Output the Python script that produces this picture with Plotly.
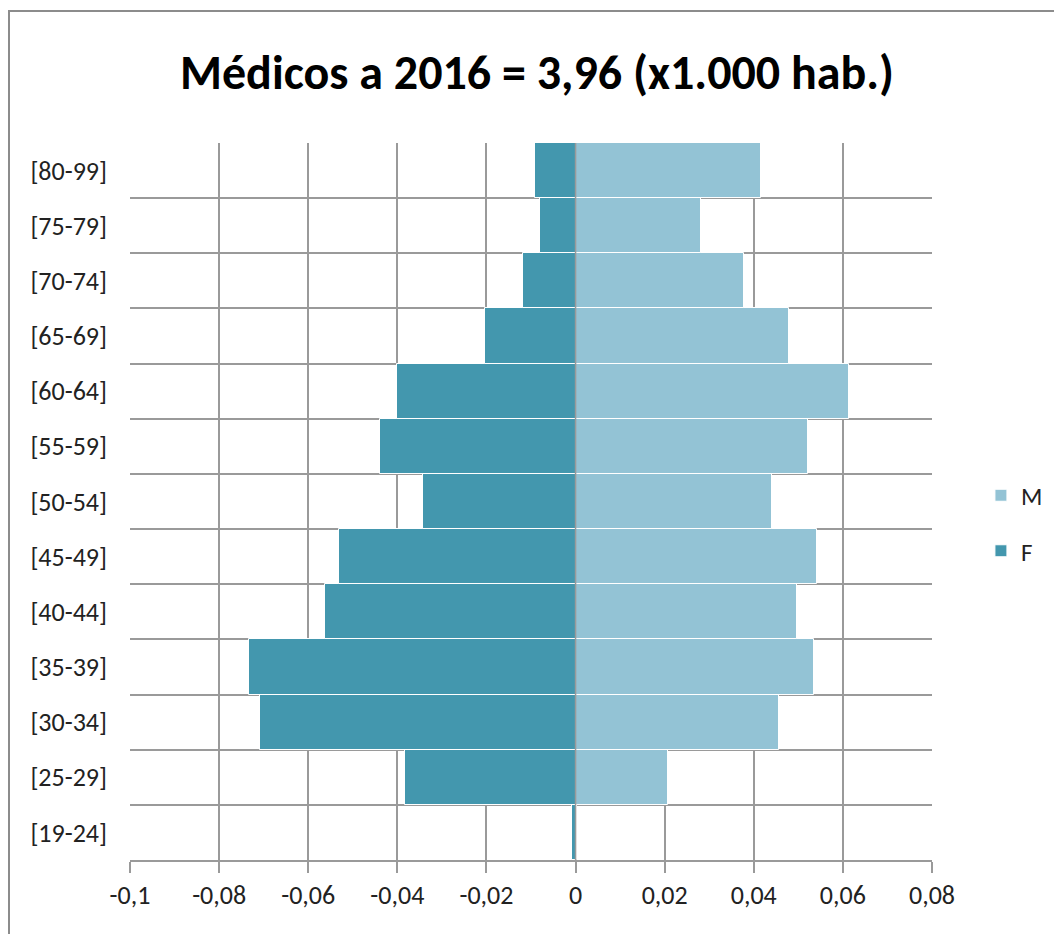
import plotly.graph_objects as go

categories = ["[19-24]", "[25-29]", "[30-34]", "[35-39]", "[40-44]", "[45-49]",
              "[50-54]", "[55-59]", "[60-64]", "[65-69]", "[70-74]", "[75-79]", "[80-99]"]
male = [0.0003, 0.0208, 0.0456, 0.0536, 0.0497, 0.0542,
        0.0442, 0.0521, 0.0614, 0.0479, 0.0378, 0.0281, 0.0416]
female = [-0.0007, -0.0382, -0.0709, -0.0733, -0.0562, -0.0531,
          -0.0342, -0.0439, -0.0401, -0.0203, -0.0119, -0.0079, -0.0091]
tick_vals = [-0.1, -0.08, -0.06, -0.04, -0.02, 0, 0.02, 0.04, 0.06, 0.08]
tick_text = ["-0,1", "-0,08", "-0,06", "-0,04", "-0,02", "0", "0,02", "0,04", "0,06", "0,08"]
title_text = "Médicos a 2016 = 3,96 (x1.000 hab.)"

FONT = "Carlito, Calibri, Lato, sans-serif"
COL_M = "#93C3D5"
COL_F = "#4397AE"
GRID = "#9A9A9A"

fig = go.Figure()
fig.add_trace(go.Bar(y=categories, x=male, orientation="h", name="M",
                     marker=dict(color=COL_M, line=dict(color="white", width=1)),
                     legendgroup="m"))
fig.add_trace(go.Bar(y=categories, x=female, orientation="h", name="F",
                     marker=dict(color=COL_F, line=dict(color="white", width=1)),
                     legendgroup="f"))

fig.update_layout(
    width=1054, height=934,
    margin=dict(l=130, r=122, t=143, b=74, autoexpand=False),
    paper_bgcolor="white", plot_bgcolor="white",
    barmode="relative", bargap=0,
    font=dict(family=FONT, size=22, color="#222222"),
    title=dict(text=title_text, x=537 / 1054, xref="container", xanchor="center",
               y=1 - 72 / 934, yref="container", yanchor="middle",
               font=dict(family=FONT, size=48, color="black", weight="bold")),
    legend=dict(x=1.061, xanchor="left", y=0.47, yanchor="middle",
                font=dict(size=25, color="#222222"), tracegroupgap=20,
                traceorder="grouped", itemwidth=30),
    xaxis=dict(range=[-0.1, 0.08], tickvals=tick_vals, ticktext=tick_text,
               showgrid=True, gridcolor=GRID, gridwidth=1.5,
               zeroline=False, showline=True, linecolor=GRID, linewidth=1.5,
               ticks="outside", ticklen=11, tickcolor=GRID, tickwidth=1.5,
               tickfont=dict(size=26, color="#222222")),
    yaxis=dict(categoryorder="array", categoryarray=categories, type="category",
               tickson="boundaries", showgrid=True, gridcolor=GRID, gridwidth=1.5,
               ticks="", showline=False, zeroline=False,
               ticklabelstandoff=22,
               tickfont=dict(size=26, color="#222222")),
    shapes=[
        dict(type="line", xref="x", yref="paper", x0=0, x1=0, y0=0, y1=1,
             line=dict(color=GRID, width=1.5), layer="above"),
        dict(type="rect", xref="paper", yref="paper",
             x0=(9 - 130) / 802, x1=2, y0=-1, y1=1 + (143 - 11) / 717,
             line=dict(color="#8C8C8C", width=2), fillcolor="rgba(0,0,0,0)",
             layer="below"),
    ],
)

fig.write_html("out.html", config={"displayModeBar": False},
               post_script="document.body.style.margin='0';document.body.style.overflow='hidden';")
